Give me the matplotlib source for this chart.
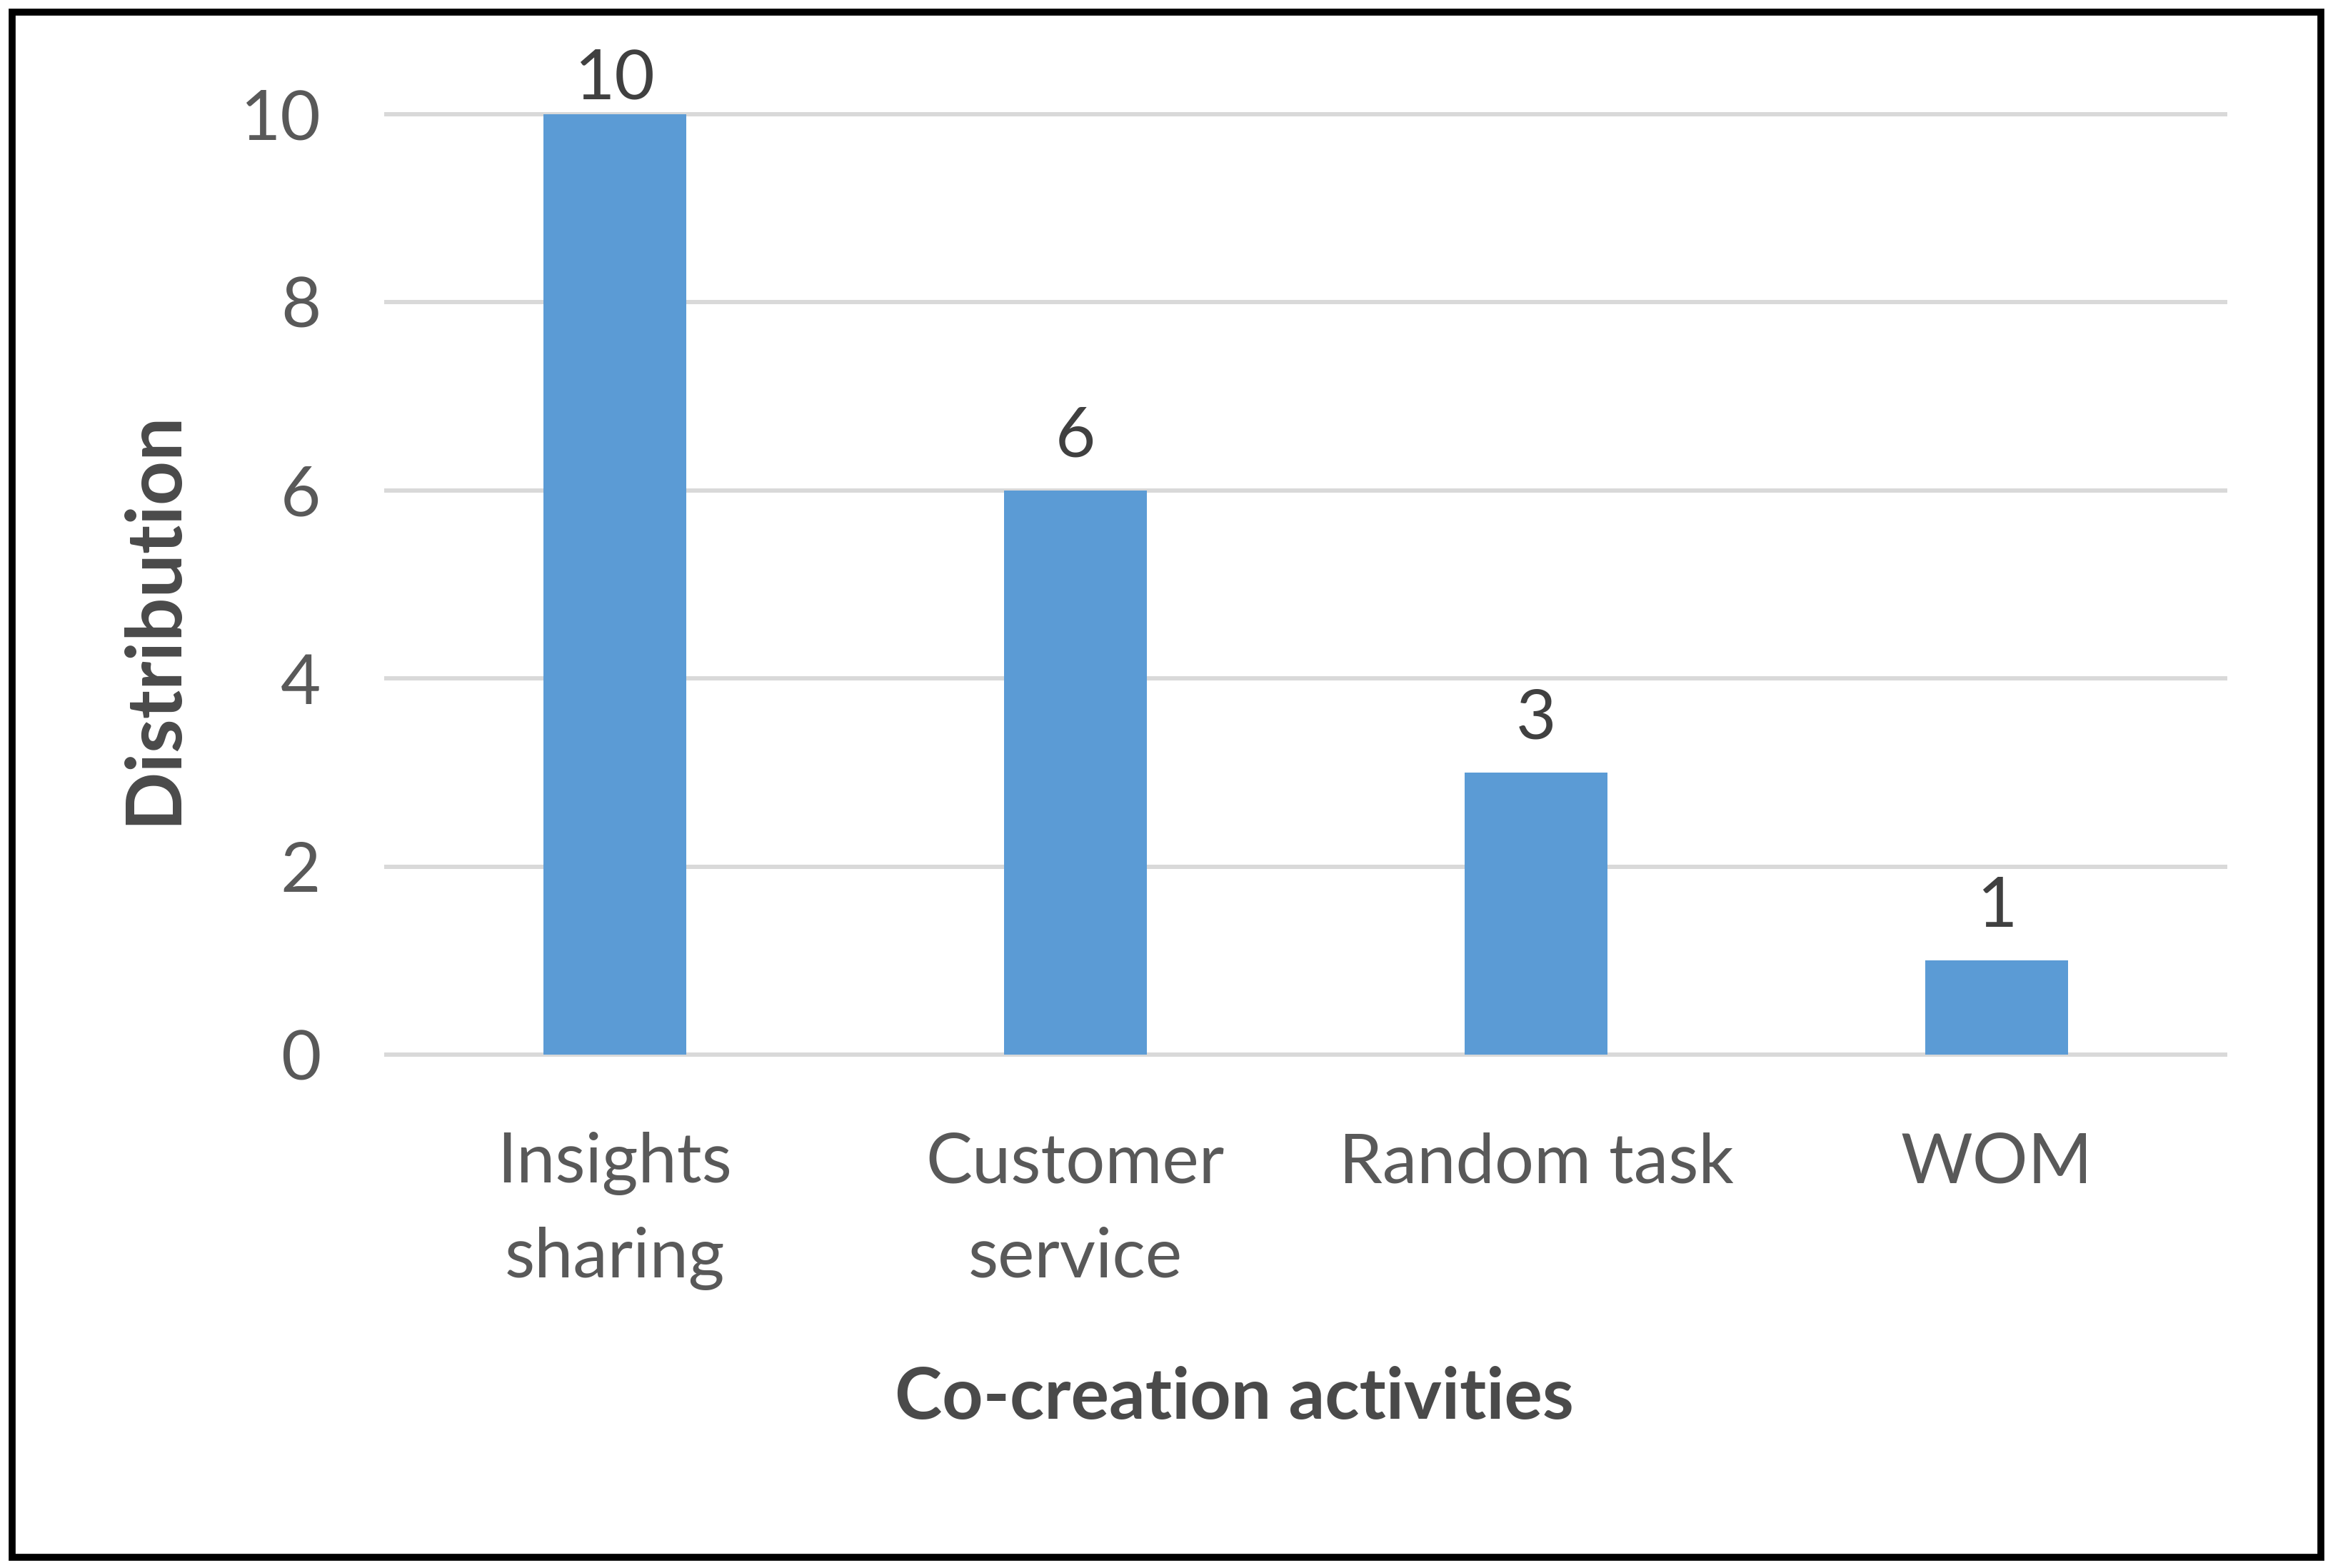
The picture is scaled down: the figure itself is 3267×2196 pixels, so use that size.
import matplotlib.pyplot as plt
from matplotlib.patches import Rectangle

# data
categories = ["Insights\nsharing", "Customer\nservice", "Random task", "WOM"]
counts = [10, 6, 3, 1]
y_ticks = [0, 2, 4, 6, 8, 10]

plt.rcParams['font.family'] = ['Lato', 'DejaVu Sans']
txt_color = '#595959'

fig = plt.figure(figsize=(32.67, 21.96), dpi=100)
ax = fig.add_axes([0.1647, 0.3274, 0.79, 0.5997])

x = range(len(categories))
bars = ax.bar(x, counts, width=0.31, color='#5B9BD5', zorder=3)

# gridlines (drawn by hand so the top one is not clipped)
ax.hlines(y_ticks, -0.5, len(categories) - 0.5, colors='#d9d9d9',
          linewidth=4.3, zorder=1, clip_on=False)

ax.set_xlim(-0.5, len(categories) - 0.5)
ax.set_ylim(0, 10)
ax.set_yticks(y_ticks)
ax.set_xticks(list(x))
ax.set_xticklabels(categories, linespacing=1.62)
ax.tick_params(axis='both', length=0, labelsize=70, colors=txt_color)
ax.tick_params(axis='y', pad=64)
ax.tick_params(axis='x', pad=78)
for s in ax.spines.values():
    s.set_visible(False)

# value labels
for b, v in zip(bars, counts):
    off = 3 if v == max(counts) else 22
    ax.annotate(str(v), (b.get_x() + b.get_width() / 2, v),
                xytext=(0, off), textcoords='offset points',
                ha='center', va='bottom', fontsize=70, color='#404040')

fig.text(0.066, 0.606, "Distribution", rotation=90, ha='center', va='center',
         fontsize=78, fontweight='bold', color='#4a4a4a')
fig.text(0.529, 0.108, "Co-creation activities", ha='center', va='center',
         fontsize=72, fontweight='bold', color='#4a4a4a')

# outer frame
fig.patches.append(Rectangle((0.0052, 0.0068), 0.9895, 0.9855,
                             transform=fig.transFigure, fill=False,
                             edgecolor='black', linewidth=7))

fig.savefig('out.png', dpi=100)
